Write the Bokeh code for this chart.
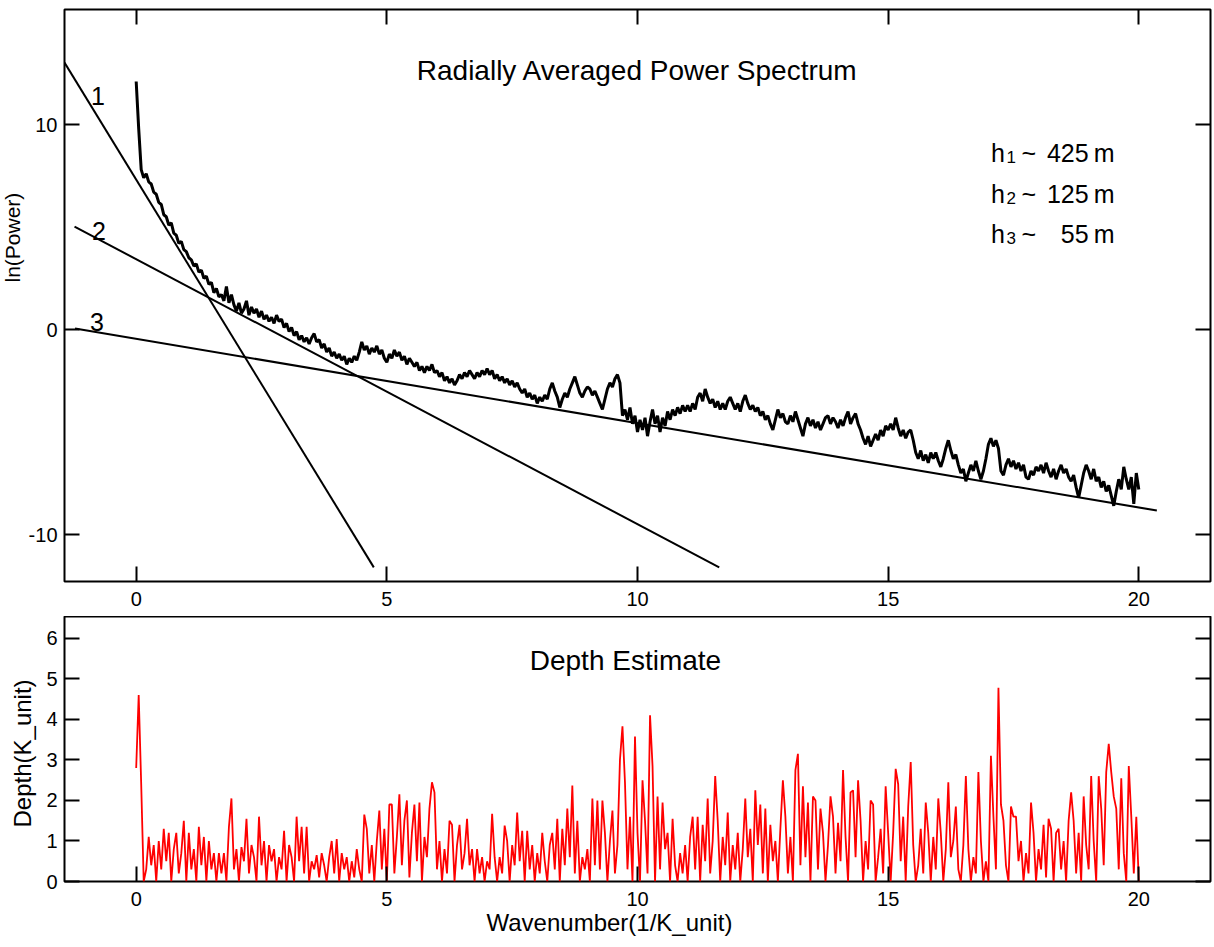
import numpy as np
from bokeh.plotting import figure
from bokeh.layouts import column
from bokeh.models import Range1d, LinearAxis, FixedTicker, Label, Title, CustomLabelingPolicy
from bokeh.embed import file_html
from bokeh.resources import INLINE

FONT = "Liberation Sans"

# Sampling interval of the wavenumber axis (1/K_unit)
STEP = 0.05

# Radially averaged power spectrum, ln(power), one row per unit of wavenumber
spectrum_ln_power = [
    12.1, 9.8, 7.8, 7.4, 7.6, 7.2, 7.1, 6.7, 6.6, 6.2, 6.1, 5.6, 5.5, 5.1, 5.2, 4.7, 4.6, 4.2, 4.3, 3.9,
    3.8, 3.5, 3.4, 3.1, 3.2, 2.8, 2.9, 2.5, 2.6, 2.2, 2.3, 1.8, 2.0, 1.6, 1.7, 1.4, 2.1, 1.3, 1.7, 1.2,
    0.9, 1.3, 0.8, 1.0, 1.4, 0.7, 1.1, 0.8, 1.0, 0.6, 0.9, 0.5, 0.7, 0.4, 0.6, 0.3, 0.7, 0.4, 0.5, 0.1,
    0.3, -0.1, 0.1, -0.3, -0.1, -0.5, -0.3, -0.6, -0.4, -0.7, -0.4, -0.2, -0.6, -0.5, -0.9, -0.7, -1.1, -0.9, -1.3, -1.1,
    -1.4, -1.2, -1.5, -1.3, -1.7, -1.4, -1.6, -1.3, -1.5, -1.1, -0.6, -1.0, -0.8, -1.2, -0.9, -1.1, -0.8, -1.2, -1.0, -1.4,
    -1.6, -1.2, -1.4, -1.0, -1.3, -1.1, -1.5, -1.3, -1.7, -1.4, -1.6, -1.8, -1.6, -2.0, -1.8, -2.1, -1.8, -2.0, -1.7, -2.1,
    -2.0, -2.3, -2.1, -2.5, -2.3, -2.6, -2.4, -2.7, -2.5, -2.2, -2.4, -2.1, -2.3, -2.0, -2.2, -2.4, -2.1, -2.3, -2.0, -2.2,
    -1.9, -2.2, -2.0, -2.4, -2.2, -2.5, -2.3, -2.6, -2.4, -2.7, -2.5, -2.8, -2.6, -2.9, -3.1, -2.9, -3.3, -3.1, -3.4, -3.2,
    -3.6, -3.3, -3.5, -3.2, -3.4, -2.9, -2.6, -3.0, -3.3, -3.8, -3.4, -3.1, -3.3, -2.9, -2.6, -2.3, -2.7, -3.1, -3.3, -3.0,
    -2.8, -2.9, -3.2, -3.0, -3.3, -3.6, -3.9, -3.4, -2.9, -2.6, -2.8, -2.4, -2.2, -2.6, -4.2, -3.9, -4.4, -3.8, -4.6, -4.2,
    -5.0, -4.4, -4.9, -4.3, -5.2, -4.5, -3.9, -4.6, -4.2, -5.0, -4.3, -4.7, -4.0, -4.4, -3.9, -4.2, -3.8, -4.1, -3.7, -4.0,
    -3.7, -4.0, -3.6, -3.9, -3.3, -3.1, -3.5, -2.9, -3.3, -3.6, -3.4, -3.8, -3.5, -3.9, -3.6, -3.9, -3.5, -3.3, -3.6, -3.9,
    -3.6, -4.0, -3.5, -3.2, -3.6, -3.9, -3.7, -4.0, -3.8, -4.2, -4.0, -4.4, -4.2, -4.6, -4.9, -4.4, -3.9, -4.3, -4.1, -4.5,
    -4.6, -4.2, -4.5, -4.0, -4.4, -4.8, -5.2, -4.6, -4.3, -4.7, -4.4, -4.8, -4.5, -4.9, -4.6, -4.3, -4.2, -4.6, -4.3, -4.5,
    -4.8, -4.4, -4.7, -4.3, -4.0, -4.6, -4.3, -4.1, -4.6, -4.9, -5.3, -5.6, -5.2, -5.7, -5.4, -5.1, -5.4, -4.9, -5.2, -4.7,
    -4.9, -4.6, -4.9, -4.3, -4.8, -5.2, -4.9, -5.3, -5.0, -4.9, -5.4, -6.0, -6.3, -5.9, -6.4, -6.1, -6.5, -6.0, -6.3, -6.0,
    -6.4, -6.7, -6.3, -5.8, -5.4, -5.9, -6.3, -6.1, -6.6, -7.0, -6.8, -7.4, -7.0, -6.6, -6.9, -6.4, -6.9, -7.3, -6.9, -6.3,
    -5.6, -5.3, -5.7, -5.4, -5.8, -6.9, -7.1, -6.6, -6.3, -6.7, -6.4, -6.8, -6.5, -6.9, -6.6, -7.2, -7.3, -6.9, -7.1, -6.7,
    -6.9, -6.6, -7.0, -6.5, -6.9, -7.2, -6.8, -7.3, -6.9, -6.6, -7.0, -6.8, -7.2, -7.4, -7.1, -7.7, -8.2, -7.6, -7.0, -6.6,
    -6.9, -7.3, -6.8, -7.4, -7.2, -7.7, -7.4, -7.9, -7.6, -8.1, -8.6, -7.9, -7.3, -7.8, -6.7, -7.3, -7.8, -7.2, -8.5, -7.0,
    -7.8,
]

# Depth estimate (K_unit) on the same wavenumber grid
depth_estimate = [
    2.8, 4.6, 2.4, 0.0, 0.3, 1.1, 0.4, 0.9, 0.0, 1.0, 0.3, 1.3, 0.5, 1.2, 0.0, 0.8, 1.2, 0.2, 0.7, 1.5,
    0.0, 1.2, 0.3, 0.8, 0.0, 1.35, 0.4, 1.1, 0.0, 1.0, 0.3, 0.7, 0.0, 0.7, 0.2, 0.7, 0.0, 1.35, 2.05, 0.3,
    0.8, 0.0, 0.85, 0.5, 1.55, 0.2, 0.9, 0.6, 0.0, 1.6, 0.4, 1.0, 0.0, 0.9, 0.5, 0.8, 0.0, 0.6, 0.3, 1.25,
    0.0, 0.9, 0.6, 0.0, 1.6, 0.5, 1.35, 0.2, 1.35, 0.0, 0.5, 0.3, 0.65, 0.1, 0.7, 0.4, 0.0, 0.6, 1.0, 0.2,
    1.05, 0.0, 0.7, 0.3, 0.6, 0.0, 0.5, 0.1, 0.8, 0.3, 0.0, 1.65, 1.3, 0.2, 0.9, 0.0, 1.0, 1.75, 0.3, 1.3,
    0.0, 1.9, 1.9, 0.2, 1.1, 2.15, 0.4, 1.5, 2.0, 0.1, 1.2, 1.9, 0.5, 1.95, 0.0, 1.1, 0.6, 1.8, 2.45, 2.2,
    0.3, 1.0, 0.0, 0.8, 0.2, 1.5, 1.4, 0.0, 0.9, 1.4, 0.3, 0.7, 1.55, 0.4, 0.8, 0.0, 0.8, 0.2, 0.6, 0.0,
    0.5, 0.3, 1.67, 0.6, 0.0, 0.6, 0.2, 1.38, 1.0, 0.0, 0.9, 0.4, 1.7, 0.5, 1.25, 0.0, 1.25, 0.3, 0.9, 0.0,
    0.7, 0.2, 1.2, 0.5, 0.0, 0.9, 1.2, 0.3, 1.55, 0.0, 1.3, 0.4, 1.8, 0.6, 2.37, 0.2, 1.5, 0.0, 0.6, 0.3,
    0.8, 0.0, 2.05, 0.4, 2.0, 0.3, 2.0, 1.2, 0.0, 1.0, 1.75, 0.2, 0.9, 3.0, 3.83, 2.45, 0.3, 1.6, 0.0, 3.58,
    1.2, 0.0, 2.5, 1.5, 0.2, 4.1, 2.85, 0.0, 2.1, 0.3, 1.95, 0.8, 1.2, 0.0, 1.55, 0.4, 0.0, 0.7, 0.2, 0.9,
    0.0, 1.1, 1.6, 0.3, 1.6, 0.0, 1.4, 0.5, 2.05, 0.2, 1.0, 2.6, 1.5, 0.0, 1.1, 0.4, 1.7, 0.0, 0.9, 0.3,
    1.2, 0.0, 0.8, 2.05, 0.6, 1.3, 0.0, 2.25, 0.9, 1.9, 0.2, 1.8, 0.0, 1.4, 0.5, 1.0, 0.0, 1.3, 2.5, 1.6,
    0.2, 1.1, 0.0, 2.75, 3.15, 0.4, 2.35, 0.6, 1.95, 0.0, 2.1, 2.0, 0.3, 1.8, 1.2, 0.0, 0.9, 2.1, 1.6, 0.2,
    1.45, 0.5, 2.75, 1.1, 0.0, 2.2, 2.25, 0.6, 2.5, 1.5, 0.0, 1.0, 0.3, 2.0, 1.9, 0.0, 0.6, 1.3, 0.2, 2.35,
    1.2, 0.0, 1.2, 2.78, 2.4, 0.5, 1.6, 0.0, 1.85, 2.95, 0.9, 0.0, 0.4, 1.3, 0.2, 1.95, 1.2, 0.0, 1.1, 0.3,
    2.05, 1.2, 0.0, 0.8, 2.45, 0.6, 1.0, 1.85, 0.3, 0.0, 0.9, 2.6, 0.8, 0.0, 0.6, 0.2, 2.7, 1.0, 0.0, 0.5,
    0.0, 3.1, 1.6, 0.3, 4.78, 1.9, 1.5, 0.4, 0.0, 1.85, 1.6, 1.6, 0.5, 1.0, 0.0, 0.7, 0.2, 1.95, 1.2, 0.0,
    0.8, 0.3, 1.4, 0.1, 1.55, 1.3, 0.0, 1.2, 1.3, 0.3, 1.0, 0.0, 1.5, 2.2, 1.5, 0.2, 1.2, 0.0, 2.1, 0.9,
    0.3, 2.6, 1.0, 0.0, 2.6, 1.8, 0.4, 2.7, 3.4, 2.7, 2.1, 1.8, 0.3, 2.55, 0.7, 0.0, 2.85, 1.6, 0.2, 1.6,
    0.0,
]

wavenumber_spec = np.round(np.arange(len(spectrum_ln_power)) * STEP, 2)
wavenumber_depth = np.round(np.arange(len(depth_estimate)) * STEP, 2)

# Straight-line fits to the three spectral segments: (x0, y0) -> (x1, y1)
fit_names = ["1", "2", "3"]
fit_x0 = [-1.43, -1.23, -1.22]
fit_y0 = [13.02, 5.02, 0.05]
fit_x1 = [4.74, 11.63, 20.36]
fit_y1 = [-11.6, -11.6, -8.83]

# Source depths derived from the fitted slopes
depth_subscripts = ["1", "2", "3"]
depth_values = ["425", "125", "55"]

x_ticks = [0, 5, 10, 15, 20]
power_ticks = [-10, 0, 10]
depth_ticks = [0, 1, 2, 3, 4, 5, 6]

X_RANGE = (-1.43, 21.43)
LEFT = 64


def style_axis(ax, ticks, show_labels=True):
    ax.ticker = FixedTicker(ticks=ticks)
    ax.major_tick_in = 15
    ax.major_tick_out = 0
    ax.minor_tick_in = 0
    ax.minor_tick_out = 0
    ax.major_tick_line_width = 2
    ax.major_tick_line_color = "black"
    ax.axis_line_color = None
    ax.major_label_overrides = {t: str(t) for t in ticks}
    if show_labels:
        ax.major_label_text_font = FONT
        ax.major_label_text_font_size = "20px"
        ax.major_label_text_color = "black"
    else:
        # mirrored tick marks only: no labels on this side
        ax.major_label_text_font_size = "1px"
        ax.major_label_standoff = 0
        ax.major_label_policy = CustomLabelingPolicy(code="return []")


def text(p, txt, x, y, size, align="left", baseline="alphabetic"):
    p.add_layout(Label(x=x, y=y, text=txt, text_font=FONT, text_font_size=size,
                       text_color="black", text_align=align, text_baseline=baseline))


def side_title(txt, size, align, offset, vertical_align, standoff=0):
    return Title(text=txt, text_font=FONT, text_font_size=size, text_font_style="normal",
                 text_color="black", align=align, offset=offset,
                 vertical_align=vertical_align, standoff=standoff)


def frame_style(p):
    p.grid.visible = False
    p.outline_line_color = "black"
    p.outline_line_width = 2
    p.background_fill_color = "white"
    p.border_fill_color = "white"


# ---------------- upper panel: power spectrum ----------------
p1 = figure(width=1214, height=616, x_range=Range1d(*X_RANGE), y_range=Range1d(-12.29, 15.61),
            output_backend="svg", toolbar_location=None,
            min_border_left=LEFT, min_border_right=2, min_border_top=9, min_border_bottom=35)
frame_style(p1)

style_axis(p1.xaxis[0], x_ticks)
p1.xaxis[0].major_label_standoff = 10
style_axis(p1.yaxis[0], power_ticks)
p1.yaxis[0].major_label_standoff = 7
top_ax = LinearAxis()
style_axis(top_ax, x_ticks, show_labels=False)
p1.add_layout(top_ax, "above")
right_ax = LinearAxis()
style_axis(right_ax, power_ticks, show_labels=False)
p1.add_layout(right_ax, "right")
p1.add_layout(side_title("ln(Power)", "21px", "left", 299, "top"), "left")

p1.segment(fit_x0, fit_y0, fit_x1, fit_y1, line_color="black", line_width=2)
p1.line(wavenumber_spec, spectrum_ln_power, line_color="black", line_width=3)

# segment numbers next to the start of each fitted line
text(p1, fit_names[0], -0.9, 11.4, "25px")
text(p1, fit_names[1], -0.88, 4.83, "25px")
text(p1, fit_names[2], -0.92, 0.35, "25px")

text(p1, "Radially Averaged Power Spectrum", 10.0, 12.63, "28px", align="center", baseline="middle")

for i, base in enumerate([8.63, 6.63, 4.68]):
    text(p1, "h", 17.05, base, "25px")
    text(p1, depth_subscripts[i], 17.36, base - 0.2, "17px")
    text(p1, "~", 17.66, base, "25px")
    text(p1, depth_values[i], 19.0, base, "25px", align="right")
    text(p1, "m", 19.1, base, "25px")

# ---------------- lower panel: depth estimate ----------------
p2 = figure(width=1214, height=331, x_range=Range1d(*X_RANGE), y_range=Range1d(0, 6.54),
            output_backend="svg", toolbar_location=None,
            min_border_left=LEFT, min_border_right=2, min_border_top=0, min_border_bottom=66)
frame_style(p2)

style_axis(p2.xaxis[0], x_ticks)
p2.xaxis[0].major_label_standoff = 10
style_axis(p2.yaxis[0], depth_ticks)
p2.yaxis[0].major_label_standoff = 7
right_ax2 = LinearAxis()
style_axis(right_ax2, depth_ticks, show_labels=False)
p2.add_layout(right_ax2, "right")
p2.add_layout(side_title("Depth(K_unit)", "24px", "left", 54, "top", standoff=12), "left")
p2.add_layout(side_title("Wavenumber(1/K_unit)", "24px", "left", 422, "top"), "below")

p2.line(wavenumber_depth, depth_estimate, line_color="#ff0000", line_width=1.8)

text(p2, "Depth Estimate", 9.76, 5.46, "28px", align="center", baseline="middle")

layout = column(p1, p2, spacing=0)

with open("out.html", "w") as f:
    f.write(file_html(layout, INLINE))
